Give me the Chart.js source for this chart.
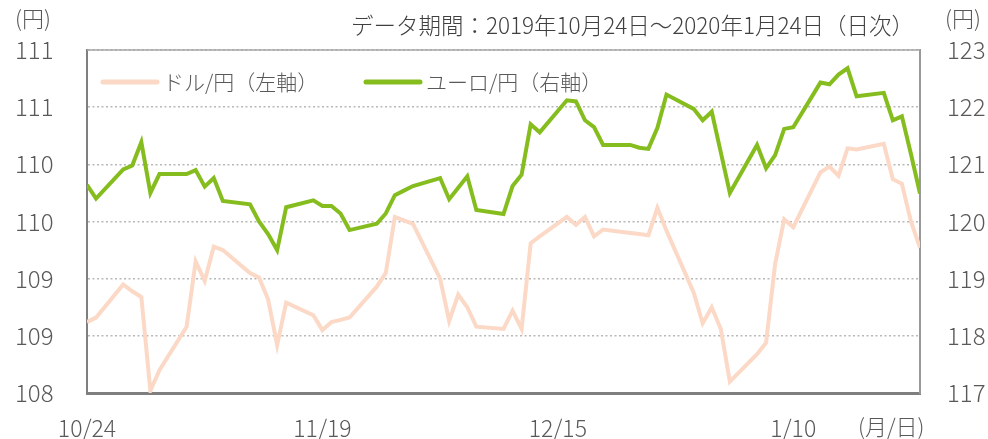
<!DOCTYPE html>
<html>
<head>
<meta charset="utf-8">
<script src="https://cdn.jsdelivr.net/npm/chart.js@4/dist/chart.umd.min.js"></script>
<style>
  body { margin: 0; background: #fff; }
  canvas { display: block; }
</style>
</head>
<body>
<canvas id="fxChart" width="988" height="439"></canvas>
<script>
// 取引日（日次）
const tradeDates = [
    '2019-10-24', '2019-10-25', '2019-10-28', '2019-10-29', '2019-10-30', '2019-10-31', '2019-11-01',
    '2019-11-04', '2019-11-05', '2019-11-06', '2019-11-07', '2019-11-08',
    '2019-11-11', '2019-11-12', '2019-11-13', '2019-11-14', '2019-11-15',
    '2019-11-18', '2019-11-19', '2019-11-20', '2019-11-21', '2019-11-22',
    '2019-11-25', '2019-11-26', '2019-11-27', '2019-11-28', '2019-11-29',
    '2019-12-02', '2019-12-03', '2019-12-04', '2019-12-05', '2019-12-06',
    '2019-12-09', '2019-12-10', '2019-12-11', '2019-12-12', '2019-12-13',
    '2019-12-16', '2019-12-17', '2019-12-18', '2019-12-19', '2019-12-20',
    '2019-12-23', '2019-12-24', '2019-12-25', '2019-12-26', '2019-12-27',
    '2019-12-30', '2019-12-31', '2020-01-01', '2020-01-02', '2020-01-03',
    '2020-01-06', '2020-01-07', '2020-01-08', '2020-01-09', '2020-01-10',
    '2020-01-13', '2020-01-14', '2020-01-15', '2020-01-16', '2020-01-17',
    '2020-01-20', '2020-01-21', '2020-01-22', '2020-01-23', '2020-01-24'
];

// ドル/円（左軸）
const usdJpy = [
    108.62, 108.66, 108.95, 108.89, 108.84, 108.02, 108.20,
    108.58, 109.15, 108.98, 109.28, 109.25,
    109.05, 109.01, 108.82, 108.42, 108.79,
    108.68, 108.55, 108.62, 108.64, 108.66,
    108.93, 109.05, 109.54, 109.51, 109.48,
    109.00, 108.63, 108.86, 108.75, 108.58,
    108.56, 108.72, 108.56, 109.31, 109.37,
    109.54, 109.47, 109.54, 109.37, 109.43,
    109.40, 109.39, 109.38, 109.62, 109.42,
    108.88, 108.61, 108.75, 108.56, 108.10,
    108.34, 108.44, 109.13, 109.52, 109.45,
    109.93, 109.98, 109.90, 110.14, 110.13,
    110.18, 109.87, 109.83, 109.50, 109.27
];

// ユーロ/円（右軸）
const eurJpy = [
    120.64, 120.40, 120.91, 120.98, 121.39, 120.50, 120.83,
    120.83, 120.90, 120.61, 120.76, 120.36,
    120.30, 120.00, 119.78, 119.50, 120.25,
    120.37, 120.27, 120.27, 120.14, 119.85,
    119.96, 120.14, 120.46, 120.54, 120.62,
    120.76, 120.39, 120.59, 120.79, 120.20,
    120.13, 120.62, 120.82, 121.70, 121.56,
    122.12, 122.10, 121.77, 121.65, 121.34,
    121.34, 121.29, 121.27, 121.64, 122.22,
    121.97, 121.77, 121.92, 121.21, 120.50,
    121.34, 120.93, 121.16, 121.62, 121.65,
    122.43, 122.40, 122.57, 122.68, 122.19,
    122.25, 121.77, 121.84, 121.18, 120.49
];

// 目盛り
const xTickDates = ['2019-10-24', '2019-11-19', '2019-12-15', '2020-01-10'];
const xTickLabels = ['10/24', '11/19', '12/15', '1/10'];
const usdTicks = [108, 108.5, 109, 109.5, 110, 110.5, 111];
const usdTickLabels = ['108', '109', '109', '110', '110', '111', '111'];
const eurTicks = [117, 118, 119, 120, 121, 122, 123];
const eurTickLabels = ['117', '118', '119', '120', '121', '122', '123'];

const titleText = 'データ期間：2019年10月24日～2020年1月24日（日次）';
const startDate = '2019-10-24';
const endDate = '2020-01-24';

const FONT = '"Noto Sans CJK JP", "Noto Sans", sans-serif';
const usdColor = '#fbd9c6';
const eurColor = '#86bd1e';
const tickColor = '#595959';

// 日付 → 経過日数
const dayIndex = d => Math.round((Date.parse(d) - Date.parse(startDate)) / 86400000);

const usdPoints = tradeDates.map((d, i) => ({ x: dayIndex(d), y: usdJpy[i] }));
const eurPoints = tradeDates.map((d, i) => ({ x: dayIndex(d), y: eurJpy[i] }));

// タイトル・単位・凡例を描く
const extrasPlugin = {
    id: 'extras',
    afterDraw(chart) {
        const { ctx, chartArea } = chart;
        ctx.save();

        // 上枠
        ctx.strokeStyle = '#a6a6a6';
        ctx.lineWidth = 1.5;
        ctx.beginPath();
        ctx.moveTo(chartArea.left, chartArea.top);
        ctx.lineTo(chartArea.right, chartArea.top);
        ctx.stroke();

        ctx.textBaseline = 'middle';
        ctx.font = `300 22.5px ${FONT}`;
        ctx.fillStyle = '#404040';
        ctx.textAlign = 'right';
        ctx.fillText(titleText, 914, 25);

        ctx.fillStyle = tickColor;
        ctx.textAlign = 'left';
        ctx.font = `300 22px ${FONT}`;
        ctx.fillText('(円)', 15, 19);
        ctx.fillText('(円)', 945, 19);
        ctx.fillText('(月/日)', 858, 427);

        // 凡例
        const legendX = [103, 366];
        ctx.font = `300 21px ${FONT}`;
        chart.data.datasets.forEach((ds, i) => {
            const x = legendX[i];
            const y = 82;
            ctx.strokeStyle = ds.borderColor;
            ctx.lineWidth = 5;
            ctx.lineCap = 'round';
            ctx.beginPath();
            ctx.moveTo(x, y);
            ctx.lineTo(x + 54, y);
            ctx.stroke();
            ctx.fillStyle = '#595959';
            ctx.fillText(ds.label, x + 60, y);
        });

        ctx.restore();
    }
};

const ctx = document.getElementById('fxChart').getContext('2d');
new Chart(ctx, {
    type: 'line',
    data: {
        datasets: [
            {
                label: 'ドル/円（左軸）',
                data: usdPoints,
                yAxisID: 'yUsd',
                borderColor: usdColor,
                borderWidth: 4,
                pointRadius: 0,
                tension: 0,
                order: 1
            },
            {
                label: 'ユーロ/円（右軸）',
                data: eurPoints,
                yAxisID: 'yEur',
                borderColor: eurColor,
                borderWidth: 4,
                pointRadius: 0,
                tension: 0,
                order: 0
            }
        ]
    },
    options: {
        responsive: false,
        animation: false,
        devicePixelRatio: 1,
        layout: {
            padding: { left: 15, top: 50, right: 0, bottom: 0 }
        },
        plugins: {
            legend: { display: false },
            title: { display: false },
            tooltip: { enabled: false }
        },
        scales: {
            x: {
                type: 'linear',
                min: dayIndex(startDate),
                max: dayIndex(endDate),
                afterBuildTicks: scale => {
                    scale.ticks = xTickDates.map(d => ({ value: dayIndex(d) }));
                },
                afterFit: scale => { scale.height = 46; },
                ticks: {
                    autoSkip: false,
                    maxRotation: 0,
                    padding: 21,
                    color: tickColor,
                    font: { family: FONT, size: 23, weight: 300 },
                    callback: (value, index) => xTickLabels[index]
                },
                grid: { display: false, drawTicks: false },
                border: { display: true, color: '#7f7f7f', width: 3 }
            },
            yUsd: {
                position: 'left',
                min: 108,
                max: 111,
                afterBuildTicks: scale => {
                    scale.ticks = usdTicks.map(v => ({ value: v }));
                },
                afterFit: scale => { scale.width = 72; },
                ticks: {
                    crossAlign: 'far',
                    color: tickColor,
                    font: { family: FONT, size: 24, weight: 300 },
                    callback: (value, index) => usdTickLabels[index]
                },
                grid: {
                    color: '#b8b8b8',
                    lineWidth: 1.5,
                    drawTicks: false
                },
                border: { display: true, color: '#7f7f7f', width: 2, dash: [2, 2.5] }
            },
            yEur: {
                position: 'right',
                min: 117,
                max: 123,
                afterBuildTicks: scale => {
                    scale.ticks = eurTicks.map(v => ({ value: v }));
                },
                afterFit: scale => { scale.width = 68; },
                ticks: {
                    crossAlign: 'near',
                    padding: 27,
                    color: tickColor,
                    font: { family: FONT, size: 24, weight: 300 },
                    callback: (value, index) => eurTickLabels[index]
                },
                grid: { display: false, drawTicks: false },
                border: { display: true, color: '#999999', width: 2 }
            }
        }
    },
    plugins: [extrasPlugin]
});
</script>
</body>
</html>
